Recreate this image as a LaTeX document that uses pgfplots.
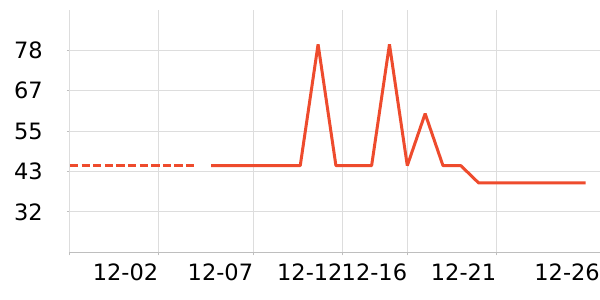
\documentclass[border=0pt]{standalone}
\usepackage{pgfplots}
\pgfplotsset{compat=1.18}
\usepackage{fontspec}
\setmainfont{DejaVu Sans}
\definecolor{linecol}{RGB}{238,75,45}
\definecolor{gridcol}{RGB}{221,221,221}
\definecolor{axiscol}{RGB}{190,190,190}
\begin{document}
\begin{tikzpicture}
\begin{axis}[
  at={(0,0)}, anchor=south west,
  scale only axis, width=530bp, height=242.3bp,
  xmin=-2.904, xmax=26.80, ymin=20, ymax=89.9,
  axis x line*=bottom, axis y line*=left,
  x axis line style={draw=axiscol, line width=1bp, -},
  y axis line style={draw=gridcol, line width=1bp, -},
  xtick={-2.904,2.05,7.37,12.38,16.0,21.0},
  xticklabels={,12-02,12-07,12-12,12-16,12-21},
  extra x ticks={26.8},
  extra x tick labels={12-26},
  extra x tick style={xmajorgrids=false, tick style={draw=none}},
  ytick={31.65,43.3,54.95,66.6,78.25},
  yticklabels={32,43,55,67,78},
  grid=major,
  major grid style={draw=gridcol, line width=1bp},
  tick style={draw=axiscol, line width=1bp},
  major tick length=3bp, tick align=outside,
  tick label style={font=\fontsize{22.5bp}{27bp}\selectfont, text=black},
  xticklabel style={anchor=north east, inner sep=0pt, yshift=-8bp},
  yticklabel style={anchor=east, inner sep=0pt, xshift=-24bp},
  clip=false,
]
\addplot[draw=linecol, line width=3bp, dash pattern=on 8.3bp off 3.3bp] coordinates {
  (-2.904,45) (4.1,45)
};
\addplot[draw=linecol, line width=3bp, line join=bevel] coordinates {
  (5,45) (6,45) (7,45) (8,45) (9,45) (10,45) (11,80) (12,45) (13,45) (14,45)
  (15,80) (16,45) (17,60) (18,45) (19,45) (20,40) (21,40) (22,40) (23,40)
  (24,40) (25,40) (26,40)
};
\end{axis}
\pgfresetboundingbox
\path (-70bp,-47.7bp) rectangle (530bp,252.3bp);
\end{tikzpicture}
\end{document}
